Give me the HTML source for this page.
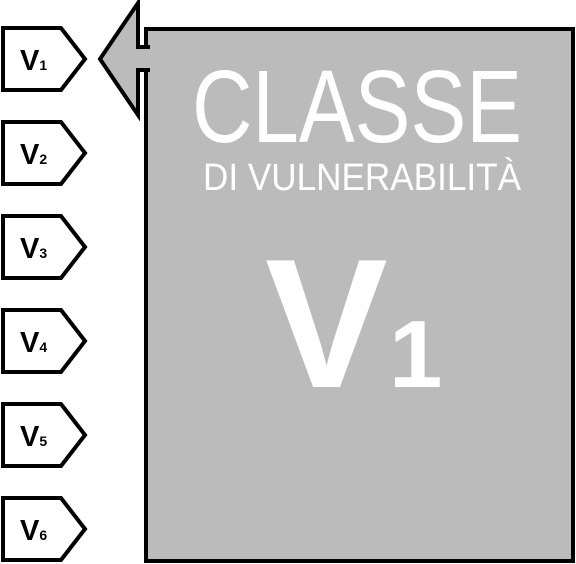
<!DOCTYPE html>
<html><head><meta charset="utf-8"><style>
html,body{margin:0;padding:0;background:#fff;width:576px;height:564px;overflow:hidden}
svg{display:block}
</style></head><body>
<svg width="576" height="564" viewBox="0 0 576 564" xmlns="http://www.w3.org/2000/svg" font-family="Liberation Sans, sans-serif">
<rect x="146" y="29" width="427" height="532" fill="#bbbbbb" stroke="#000" stroke-width="4"/>
<polygon points="138,3 138,47 148,47 148,70 138,70 138,115 100,59" fill="#bbbbbb" stroke="#000" stroke-width="4" stroke-linejoin="miter"/>
<rect x="142" y="49" width="10" height="19" fill="#bbbbbb"/>
<g fill="#fff">
<text x="192" y="142" font-size="103" textLength="330" lengthAdjust="spacingAndGlyphs">CLASSE</text>
<text x="203" y="190" font-size="38" textLength="318" lengthAdjust="spacingAndGlyphs">DI  VULNERABILITÀ</text>
<text x="265" y="387" font-size="184" font-weight="bold">V</text>
<text x="389" y="387" font-size="96" font-weight="bold">1</text>
</g>
<g stroke="#000" stroke-width="4" fill="#fff" stroke-linejoin="miter">
<polygon points="3,28 61,28 85,59 61,90 3,90"/>
<polygon points="3,122 61,122 85,153 61,184 3,184"/>
<polygon points="3,216 61,216 85,247 61,278 3,278"/>
<polygon points="3,310 61,310 85,341 61,372 3,372"/>
<polygon points="3,404 61,404 85,435 61,466 3,466"/>
<polygon points="3,498 61,498 85,529 61,560 3,560"/>
</g>
<g font-weight="bold" fill="#000">
<text x="20" y="70" font-size="29">V<tspan font-size="14">1</tspan></text>
<text x="20" y="164" font-size="29">V<tspan font-size="14">2</tspan></text>
<text x="20" y="258" font-size="29">V<tspan font-size="14">3</tspan></text>
<text x="20" y="352" font-size="29">V<tspan font-size="14">4</tspan></text>
<text x="20" y="446" font-size="29">V<tspan font-size="14">5</tspan></text>
<text x="20" y="540" font-size="29">V<tspan font-size="14">6</tspan></text>
</g>
</svg>
</body></html>
